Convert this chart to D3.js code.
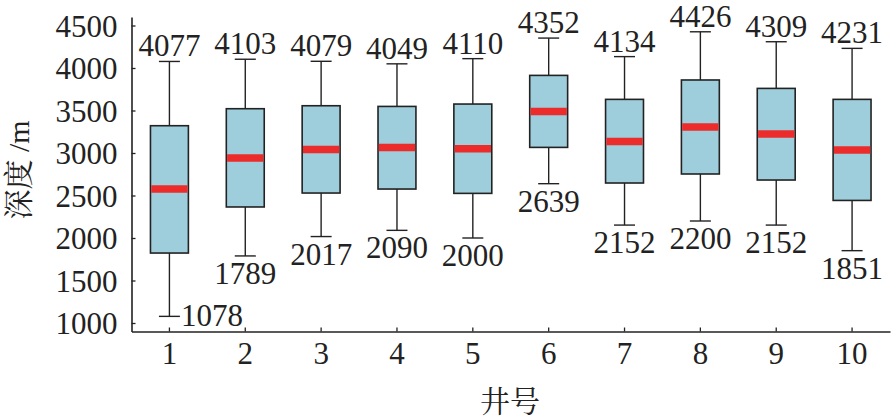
<!DOCTYPE html>
<html>
  <head>
    <script src="https://d3js.org/d3.v7.min.js"></script>
    <style>
      body { margin: 0; background: #fff; }
      text { font-family: "Times New Roman", "Liberation Serif", "Noto Serif CJK SC", "Noto Sans CJK SC", serif; fill: #222; }
    </style>
  </head>
  <body>
    <script>

    // well numbers and box statistics (depth, m)
    var wells = [1, 2, 3, 4, 5, 6, 7, 8, 9, 10];
    var minVals = [1078, 1789, 2017, 2090, 2000, 2639, 2152, 2200, 2152, 1851];
    var q1Vals = [1823, 2365, 2529, 2576, 2525, 3066, 2647, 2753, 2682, 2442];
    var medVals = [2576, 2941, 3042, 3066, 3051, 3489, 3136, 3306, 3224, 3035];
    var q3Vals = [3321, 3521, 3556, 3548, 3576, 3913, 3631, 3859, 3760, 3631];
    var maxVals = [4077, 4103, 4079, 4049, 4110, 4352, 4134, 4426, 4309, 4231];
    var yTicks = [1000, 1500, 2000, 2500, 3000, 3500, 4000, 4500];

    var w = 891;
    var h = 417;

    var data = wells.map(function(d, i) {
      return { well: d, min: minVals[i], q1: q1Vals[i], med: medVals[i], q3: q3Vals[i], max: maxVals[i] };
    });

    var x = d3.scaleBand()
      .domain(wells)
      .range([131.5, 890])
      .padding(0);

    var y = d3.scaleLinear()
      .domain([900, 4600])
      .range([331.5, 17]);

    var svg = d3.select("body")
      .append("svg")
      .attr("width", w)
      .attr("height", h);

    var boxW = x.bandwidth() * 0.5;
    var capW = 21;
    var cx = function(d) { return x(d.well) + x.bandwidth() / 2; };

    // axes (ticks pointing inward)
    var yAxis = svg.append("g")
      .attr("transform", "translate(131.5,0)")
      .call(d3.axisLeft(y).tickValues(yTicks).tickFormat(d3.format("d"))
        .tickSizeInner(-4).tickSizeOuter(0).tickPadding(14));

    var xAxis = svg.append("g")
      .attr("transform", "translate(0,331.5)")
      .call(d3.axisBottom(x).tickSizeInner(-4).tickSizeOuter(0).tickPadding(10));

    [yAxis, xAxis].forEach(function(g) {
      g.attr("font-family", null);
      g.select(".domain").attr("stroke", "#222").attr("stroke-width", 1.6);
      g.selectAll(".tick line").attr("stroke", "#222").attr("stroke-width", 1.3);
      g.selectAll(".tick text").attr("font-size", "31px").attr("fill", "#222");
    });
    yAxis.selectAll(".tick text").attr("dy", "0.34em");
    xAxis.selectAll(".tick text").attr("dy", "0.74em");

    var g = svg.selectAll(".box")
      .data(data)
      .enter()
      .append("g")
      .attr("class", "box");

    // whiskers
    g.append("line")
      .attr("x1", cx).attr("x2", cx)
      .attr("y1", function(d) { return y(d.max); })
      .attr("y2", function(d) { return y(d.min); })
      .attr("stroke", "#222")
      .attr("stroke-width", 1.4);

    // caps
    ["min", "max"].forEach(function(k) {
      g.append("line")
        .attr("x1", function(d) { return cx(d) - capW / 2; })
        .attr("x2", function(d) { return cx(d) + capW / 2; })
        .attr("y1", function(d) { return y(d[k]); })
        .attr("y2", function(d) { return y(d[k]); })
        .attr("stroke", "#222")
        .attr("stroke-width", 1.4);
    });

    // boxes
    g.append("rect")
      .attr("x", function(d) { return cx(d) - boxW / 2; })
      .attr("y", function(d) { return y(d.q3); })
      .attr("width", boxW)
      .attr("height", function(d) { return y(d.q1) - y(d.q3); })
      .attr("fill", "#9ecedb")
      .attr("stroke", "#222")
      .attr("stroke-width", 1.6);

    // medians
    g.append("line")
      .attr("x1", function(d) { return cx(d) - boxW / 2 + 0.8; })
      .attr("x2", function(d) { return cx(d) + boxW / 2 - 0.8; })
      .attr("y1", function(d) { return y(d.med); })
      .attr("y2", function(d) { return y(d.med); })
      .attr("stroke", "#ec2b2b")
      .attr("stroke-width", 7.5);

    // max labels
    g.append("text")
      .attr("x", cx)
      .attr("y", function(d) { return y(d.max) - 5; })
      .attr("text-anchor", "middle")
      .attr("font-size", "31px")
      .text(function(d) { return d.max; });

    // min labels (the lowest one sits beside its cap)
    g.append("text")
      .attr("x", function(d, i) { return i === 0 ? cx(d) + capW / 2 + 1 : cx(d); })
      .attr("y", function(d, i) { return i === 0 ? y(d.min) + 10 : y(d.min) + 28; })
      .attr("text-anchor", function(d, i) { return i === 0 ? "start" : "middle"; })
      .attr("font-size", "31px")
      .text(function(d) { return d.min; });

    // axis titles
    svg.append("text")
      .attr("transform", "translate(29,170) rotate(-90)")
      .attr("text-anchor", "middle")
      .attr("font-size", "30px")
      .text("深度 /m");

    svg.append("text")
      .attr("x", 510)
      .attr("y", 412)
      .attr("text-anchor", "middle")
      .attr("font-size", "30px")
      .text("井号");

    </script>
  </body>
</html>
